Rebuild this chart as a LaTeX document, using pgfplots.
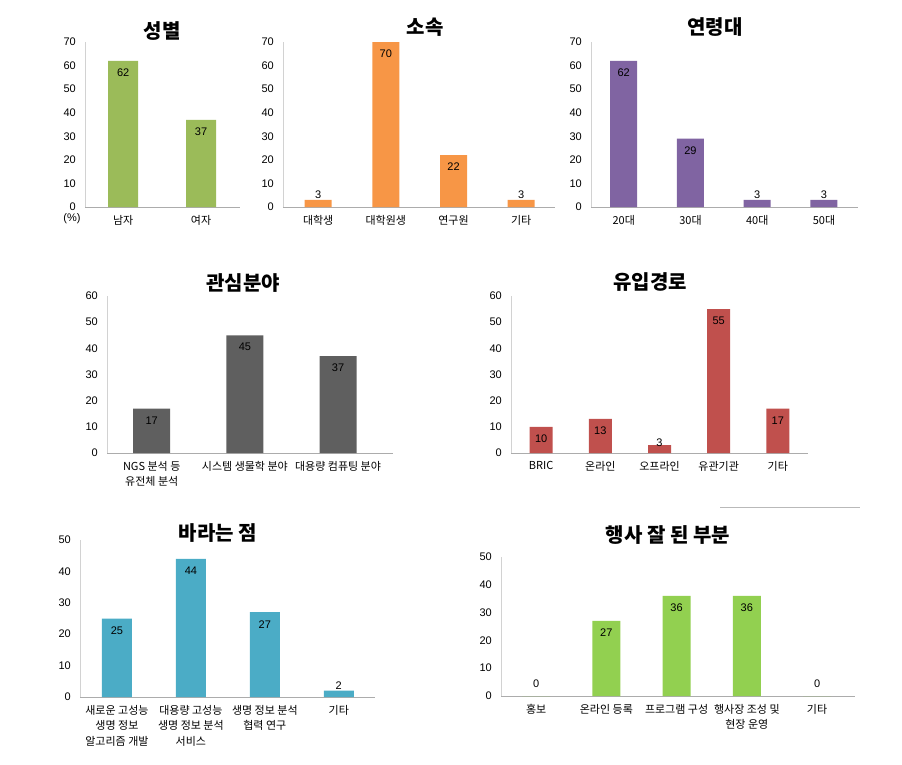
\documentclass[border=0pt]{standalone}
\usepackage{pgfplots}
\pgfplotsset{compat=1.18}
\usepackage{fontspec}
\setmainfont{Liberation Sans}
\newfontfamily\kr{Noto Sans CJK KR}
\definecolor{cgreen}{HTML}{9BBB59}
\definecolor{corange}{HTML}{F79646}
\definecolor{cpurple}{HTML}{8064A2}
\definecolor{cgray}{HTML}{5F5F5F}
\definecolor{cred}{HTML}{C0504D}
\definecolor{cteal}{HTML}{4BACC6}
\definecolor{clime}{HTML}{92D050}
\pgfplotsset{
  panel/.style={
    scale only axis, anchor=south west,
    axis x line*=bottom, axis y line*=left,
    x axis line style={draw=gray!65, line width=0.8pt},
    y axis line style={draw=gray!35, line width=0.8pt},
    major tick length=0pt, ymin=0, ytick distance=10,
    /pgf/number format/assume math mode=true,
    yticklabel style={anchor=east, inner sep=0pt, xshift=-9pt, font=\fontsize{11}{13}\selectfont},
    xticklabel style={anchor=north, align=center, inner sep=0pt, yshift=-8pt, font=\kr\fontsize{11}{15.5}\selectfont},
    clip=false,
  },
  inlab/.style={draw=none, mark=none, nodes near coords,
    every node near coord/.style={anchor=center, yshift=-12pt, font=\fontsize{11}{13}\selectfont, text=black}},
  outlab/.style={draw=none, mark=none, nodes near coords,
    every node near coord/.style={anchor=center, yshift=#1, font=\fontsize{11}{13}\selectfont, text=black}},
  outlab/.default=5pt,
}
\begin{document}
\begin{tikzpicture}
\path[use as bounding box] (0pt,0pt) rectangle (902pt,-765pt);
% titles
\begin{scope}[every node/.style={font=\kr\bfseries\fontsize{20}{22}\selectfont}]
\node at (162pt,-31pt) {성별};
\node at (425pt,-27pt) {소속};
\node at (715pt,-27pt) {연령대};
\node at (243pt,-283pt) {관심분야};
\node at (650pt,-282pt) {유입경로};
\node at (218pt,-533pt) {바라는 점};
\node at (668pt,-535pt) {행사 잘 된 부분};
\end{scope}
\node[font=\fontsize{11}{13}\selectfont] at (72pt,-219pt) {(\%)};
\draw[gray!55, line width=0.8pt] (720pt,-507pt) -- (860pt,-507pt);

% 1 성별
\begin{axis}[panel, at={(85pt,-207pt)}, width=155pt, height=165pt,
  xmin=-0.49, xmax=1.5, ymax=70, xtick={0,1}, xticklabels={남자,여자}]
\addplot[ybar, bar width=30pt, fill=cgreen, draw=none] coordinates {(0,62) (1,37)};
\addplot[inlab] coordinates {(0,62) (1,37)};
\end{axis}

% 2 소속
\begin{axis}[panel, at={(283pt,-207pt)}, width=272pt, height=165pt,
  xmin=-0.52, xmax=3.5, ymax=70, xtick={0,1,2,3}, xticklabels={대학생,대학원생,연구원,기타}]
\addplot[ybar, bar width=27pt, fill=corange, draw=none] coordinates {(0,3) (1,70) (2,22) (3,3)};
\addplot[inlab] coordinates {(1,70) (2,22)};
\addplot[outlab] coordinates {(0,3) (3,3)};
\end{axis}

% 3 연령대
\begin{axis}[panel, at={(591pt,-207pt)}, width=267pt, height=165pt,
  xmin=-0.49, xmax=3.51, ymax=70, xtick={0,1,2,3}, xticklabels={20대,30대,40대,50대}]
\addplot[ybar, bar width=27pt, fill=cpurple, draw=none] coordinates {(0,62) (1,29) (2,3) (3,3)};
\addplot[inlab] coordinates {(0,62) (1,29)};
\addplot[outlab] coordinates {(2,3) (3,3)};
\end{axis}

% 4 관심분야
\begin{axis}[panel, at={(107pt,-453pt)}, width=286pt, height=157pt,
  xmin=-0.48, xmax=2.59, ymax=60, xtick={0,1,2},
  xticklabels={{NGS 분석 등\\유전체 분석},{시스템 생물학 분야},{대용량 컴퓨팅 분야}}]
\addplot[ybar, bar width=37pt, fill=cgray, draw=none] coordinates {(0,17) (1,45) (2,37)};
\addplot[inlab] coordinates {(0,17) (1,45) (2,37)};
\end{axis}

% 5 유입경로
\begin{axis}[panel, at={(511pt,-453pt)}, width=297pt, height=157pt,
  xmin=-0.51, xmax=4.51, ymax=60, xtick={0,1,2,3,4},
  xticklabels={BRIC,온라인,오프라인,유관기관,기타}]
\addplot[ybar, bar width=23pt, fill=cred, draw=none] coordinates {(0,10) (1,13) (2,3) (3,55) (4,17)};
\addplot[inlab] coordinates {(0,10) (1,13) (3,55) (4,17)};
\addplot[outlab=2pt] coordinates {(2,3)};
\end{axis}

% 6 바라는 점
\begin{axis}[panel, at={(80pt,-697pt)}, width=295pt, height=157pt,
  xmin=-0.5, xmax=3.49, ymax=50, xtick={0,1,2,3},
  xticklabels={{새로운 고성능\\생명 정보\\알고리즘 개발},{대용량 고성능\\생명 정보 분석\\서비스},{생명 정보 분석\\협력 연구},{기타}}]
\addplot[ybar, bar width=30pt, fill=cteal, draw=none] coordinates {(0,25) (1,44) (2,27) (3,2)};
\addplot[inlab] coordinates {(0,25) (1,44) (2,27)};
\addplot[outlab] coordinates {(3,2)};
\end{axis}

% 7 행사 잘 된 부분
\begin{axis}[panel, at={(501pt,-696pt)}, width=354pt, height=139pt,
  xmin=-0.5, xmax=4.54, ymax=50, xtick={0,1,2,3,4},
  xticklabels={{홍보},{온라인 등록},{프로그램 구성},{행사장 조성 및\\현장 운영},{기타}}]
\addplot[ybar, bar width=28pt, fill=clime, draw=none] coordinates {(0,0) (1,27) (2,36) (3,36) (4,0)};
\addplot[inlab] coordinates {(1,27) (2,36) (3,36)};
\addplot[outlab=12pt] coordinates {(0,0) (4,0)};
\end{axis}
\end{tikzpicture}
\end{document}
